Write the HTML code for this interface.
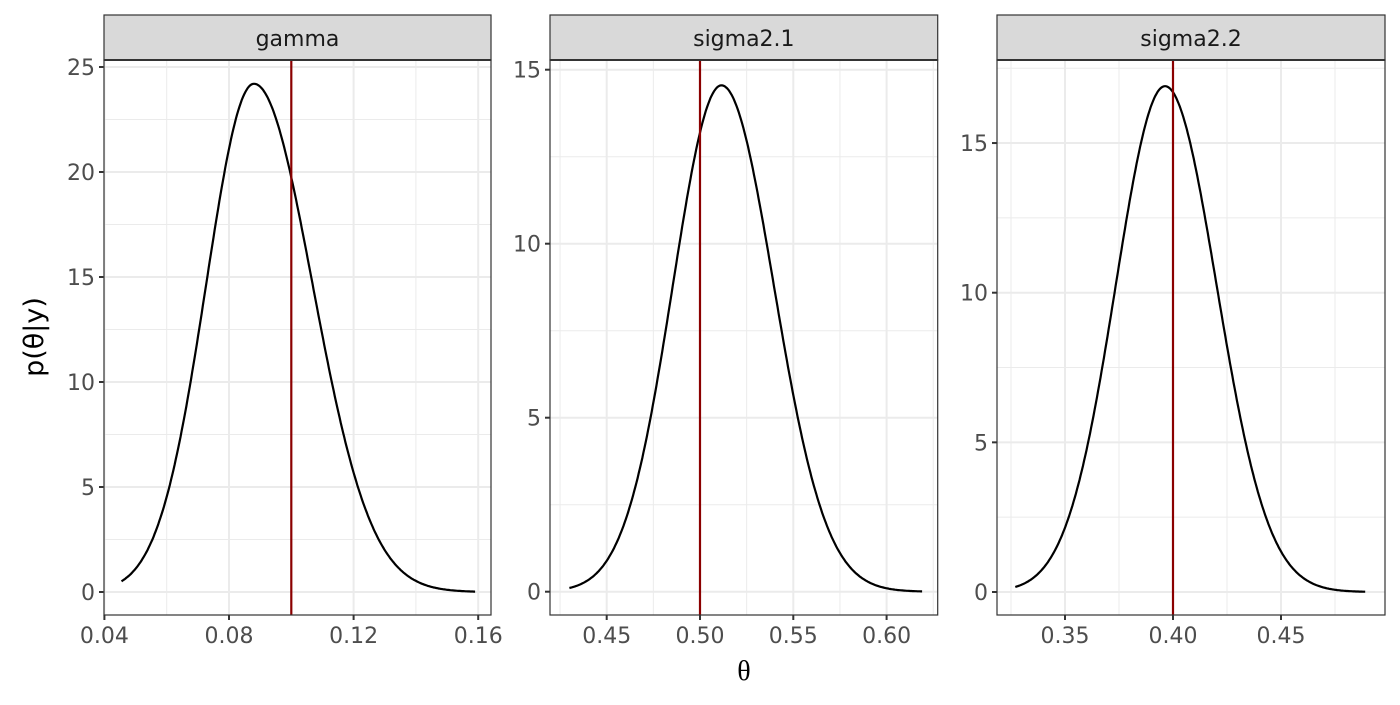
<!DOCTYPE html>
<html><head><meta charset="utf-8"><style>
body{margin:0;background:#fff;width:1400px;height:700px;overflow:hidden}
text{font-family:"DejaVu Sans","Liberation Sans",sans-serif}
</style></head><body>
<svg id="s" width="1400" height="700" xmlns="http://www.w3.org/2000/svg"></svg>
<script>
const S=document.getElementById('s');let h='';
const P=[
 {L:104,R:491,name:'gamma',x0:0.04,px0:104.4,k:3115,y0:592,ky:21,yt:[0,5,10,15,20,25],ym:[2.5,7.5,12.5,17.5,22.5],xt:[0.04,0.08,0.12,0.16],xl:['0.04','0.08','0.12','0.16'],xm:[0.06,0.10,0.14],red:0.10,a:0.0455,b:0.159,mu:0.088,pk:24.2,sl:0.0153,sr:0.0188},
 {L:550,R:937.7,name:'sigma2.1',x0:0.45,px0:606.7,k:1866,y0:591.7,ky:34.8,yt:[0,5,10,15],ym:[2.5,7.5,12.5],xt:[0.45,0.5,0.55,0.6],xl:['0.45','0.50','0.55','0.60'],xm:[0.425,0.475,0.525,0.575,0.625],red:0.5,a:0.43,b:0.619,mu:0.5115,pk:14.55,sl:0.026,sr:0.028},
 {L:997,R:1385,name:'sigma2.2',x0:0.35,px0:1065,k:2160,y0:592,ky:29.93,yt:[0,5,10,15],ym:[2.5,7.5,12.5,17.5],xt:[0.35,0.4,0.45],xl:['0.35','0.40','0.45'],xm:[0.325,0.375,0.425,0.475],red:0.4,a:0.327,b:0.489,mu:0.3963,pk:16.9,sl:0.0228,sr:0.0239}
];
const T=60,B=615;
for(const p of P){
 const X=v=>p.px0+(v-p.x0)*p.k, Y=v=>p.y0-v*p.ky;
 h+=`<rect x="${p.L}" y="${T}" width="${p.R-p.L}" height="${B-T}" fill="#fff"/>`;
 for(const v of p.ym){const y=Y(v);if(y>T&&y<B)h+=`<line x1="${p.L}" x2="${p.R}" y1="${y}" y2="${y}" stroke="#ebebeb" stroke-width="1"/>`;}
 for(const v of p.xm){const x=X(v);if(x>p.L&&x<p.R)h+=`<line x1="${x}" x2="${x}" y1="${T}" y2="${B}" stroke="#ebebeb" stroke-width="1"/>`;}
 for(const v of p.yt){const y=Y(v);h+=`<line x1="${p.L}" x2="${p.R}" y1="${y}" y2="${y}" stroke="#ebebeb" stroke-width="2"/><line x1="${p.L-5}" x2="${p.L}" y1="${y}" y2="${y}" stroke="#333" stroke-width="2"/><text x="${p.L-9}" y="${y+8}" font-size="22" fill="#4d4d4d" text-anchor="end">${v}</text>`;}
 p.xt.forEach((v,i)=>{const x=X(v);h+=`<line x1="${x}" x2="${x}" y1="${T}" y2="${B}" stroke="#ebebeb" stroke-width="2"/><line x1="${x}" x2="${x}" y1="${B}" y2="${B+5}" stroke="#333" stroke-width="2"/><text x="${x}" y="${B+28}" font-size="22" fill="#4d4d4d" text-anchor="middle">${p.xl[i]}</text>`;});
 let d='';for(let i=0;i<=300;i++){const v=p.a+(p.b-p.a)*i/300;const s=v<p.mu?p.sl:p.sr;const f=p.pk*Math.exp(-0.5*((v-p.mu)/s)**2);d+=(i?'L':'M')+X(v).toFixed(1)+','+Y(f).toFixed(1);}
 h+=`<path d="${d}" fill="none" stroke="#000" stroke-width="2.2"/>`;
 h+=`<line x1="${X(p.red)}" x2="${X(p.red)}" y1="${T}" y2="${B}" stroke="#8b0000" stroke-width="2.2"/>`;
 h+=`<rect x="${p.L}" y="${T}" width="${p.R-p.L}" height="${B-T}" fill="none" stroke="#333" stroke-width="1.2"/>`;
 h+=`<rect x="${p.L}" y="15" width="${p.R-p.L}" height="45" fill="#d9d9d9" stroke="#333" stroke-width="1.2"/><line x1="${p.L}" x2="${p.R}" y1="60" y2="60" stroke="#333" stroke-width="2"/>`;
 h+=`<text x="${(p.L+p.R)/2}" y="46" font-size="22" fill="#1a1a1a" text-anchor="middle">${p.name}</text>`;
}
h+=`<text x="744" y="680" font-size="28" fill="#000" text-anchor="middle" style="font-family:'Liberation Serif',serif">θ</text>`;
h+=`<text transform="translate(43,337) rotate(-90)" font-size="27" fill="#000" text-anchor="middle">p(θ|y)</text>`;
S.innerHTML=h;
</script>
</body></html>
